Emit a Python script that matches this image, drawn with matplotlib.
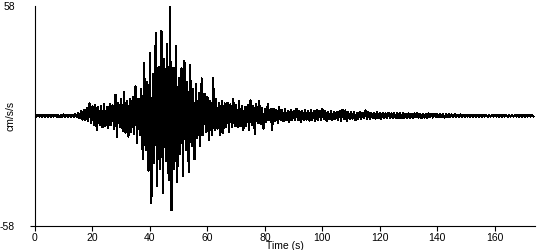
import matplotlib
matplotlib.use("Agg")
import matplotlib.pyplot as plt
import numpy as np

# peak values, one positive and one negative swing per second (cm/s/s)
upper = [
    0.5, 0.6, 0.5, 0.4, 0.6, 0.5, 0.5, 0.6, 0.4, 0.5, 0.7, 0.5, 0.6, 0.5,
    0.8, 1.5, 2.5, 3.0, 4.0, 6.5,
    5.0, 5.5, 4.5, 5.0, 6.0, 4.5, 6.0, 5.5, 11.0, 7.0,
    9.0, 12.5, 8.0, 9.0, 10.0, 15.6, 9.0, 14.0, 28.0, 18.0,
    33.0, 22.0, 43.6, 26.0, 45.0, 30.0, 38.0, 58.0, 25.0, 37.0,
    20.0, 25.0, 29.0, 18.0, 27.0, 14.0, 17.0, 12.0, 19.7, 11.7,
    10.0, 8.0, 19.7, 9.0, 6.5, 8.0, 6.5, 7.0, 6.0, 8.7,
    5.5, 8.0, 5.0, 4.7, 5.5, 8.2, 5.0, 6.0, 7.9, 4.0,
    3.8, 6.4, 3.5, 3.8, 3.3, 4.5, 3.0, 3.5, 2.7, 3.0,
    2.5, 3.8, 2.7, 2.4, 3.0, 2.5, 2.8, 2.4, 3.2, 2.5,
    3.4, 2.4, 2.0, 2.6, 2.2, 2.0, 2.4, 3.0, 2.8, 2.0,
    2.2, 1.8, 1.7, 2.0, 1.6, 2.9, 1.8, 1.7, 1.5, 1.9,
    1.6, 1.4, 1.3, 1.5, 1.2, 1.3, 1.6, 1.2, 1.3, 1.1,
    1.3, 1.0, 1.2, 1.4, 1.0, 1.1, 0.9, 1.2, 1.0, 0.9,
    0.8, 1.0, 0.8, 0.7, 0.9, 0.7, 0.8, 0.6, 0.7, 0.6,
    0.5, 0.6, 0.5, 0.5, 0.6, 0.4, 0.5, 0.5, 0.4, 0.5,
    0.4, 0.5, 0.4, 0.5, 0.4, 0.4, 0.5, 0.4, 0.4, 0.5,
    0.4, 0.4, 0.5, 0.4,
]
lower = [
    -0.5, -0.4, -0.5, -0.6, -0.5, -0.5, -0.4, -0.5, -0.6, -0.5, -0.6, -0.5, -0.4, -0.5,
    -0.7, -1.2, -2.0, -2.5, -3.0, -4.0,
    -5.0, -7.7, -5.0, -6.0, -5.5, -6.5, -5.0, -7.0, -11.0, -6.0,
    -8.0, -9.0, -11.0, -8.5, -9.5, -14.6, -10.0, -23.0, -18.0, -29.0,
    -46.0, -25.0, -37.0, -28.0, -41.0, -24.0, -34.0, -50.0, -28.0, -35.0,
    -20.0, -32.0, -18.0, -30.0, -16.0, -23.0, -12.0, -16.0, -10.0, -8.6,
    -13.0, -10.0, -7.7, -6.8, -10.0, -9.0, -6.0, -8.6, -6.0, -5.5,
    -6.0, -5.5, -7.5, -5.5, -7.7, -5.0, -9.5, -4.0, -4.5, -6.8,
    -3.5, -2.4, -7.3, -3.0, -4.0, -2.5, -3.0, -2.4, -3.3, -2.2,
    -2.5, -2.0, -3.3, -2.2, -2.0, -2.6, -2.1, -2.9, -2.0, -2.4,
    -1.9, -2.9, -1.8, -2.2, -1.9, -2.0, -2.8, -1.7, -2.6, -1.9,
    -1.6, -2.5, -1.5, -1.6, -1.4, -1.7, -1.5, -1.3, -1.6, -1.4,
    -1.5, -1.2, -1.3, -1.1, -1.4, -1.2, -1.1, -1.3, -1.0, -1.2,
    -1.0, -1.1, -0.9, -1.0, -1.2, -0.9, -1.0, -0.8, -0.9, -0.8,
    -0.8, -0.7, -0.9, -0.7, -0.6, -0.8, -0.6, -0.7, -0.5, -0.6,
    -0.5, -0.5, -0.6, -0.4, -0.5, -0.5, -0.4, -0.5, -0.4, -0.4,
    -0.4, -0.5, -0.4, -0.4, -0.5, -0.4, -0.4, -0.4, -0.5, -0.4,
    -0.4, -0.4, -0.4, -0.4,
]
x_ticks = [0, 20, 40, 60, 80, 100, 120, 140, 160]
y_ticks = [-58, 58]

# interleave the swings: positive on the second, negative half a second later
n = len(upper)
t = np.empty(2 * n)
acc = np.empty(2 * n)
t[0::2] = np.arange(n)
t[1::2] = np.arange(n) + 0.5
acc[0::2] = upper
acc[1::2] = lower

plt.rcParams['font.family'] = ['Liberation Sans', 'DejaVu Sans']

fig = plt.figure(figsize=(5.5, 2.5), dpi=100)
ax = fig.add_axes([35 / 550, 1 - 225.5 / 250, 500 / 550, 219.5 / 250])

ax.plot(t, acc, color='black', lw=0.8, antialiased=False)

ax.set_xlim(0, 174)
ax.set_ylim(-58, 58)
ax.set_xticks(x_ticks)
ax.set_yticks(y_ticks)
ax.set_yticklabels([str(v) for v in y_ticks])
ax.get_yaxis().get_major_ticks()[1].tick1line.set_visible(False)

for s in ['top', 'right']:
    ax.spines[s].set_visible(False)
for s in ['left', 'bottom']:
    ax.spines[s].set_linewidth(0.8)

ax.tick_params(axis='x', length=3.6, width=0.8, pad=2, labelsize=7.5)
ax.tick_params(axis='y', length=3.6, width=0.8, pad=11, labelsize=7.5)

ax.set_xlabel('Time (s)', fontsize=7.5, labelpad=-1.5)
ax.set_ylabel('cm/s/s', fontsize=7.5)
ax.yaxis.set_label_coords(-0.038, 0.5)

fig.savefig('out.png', dpi=100)
